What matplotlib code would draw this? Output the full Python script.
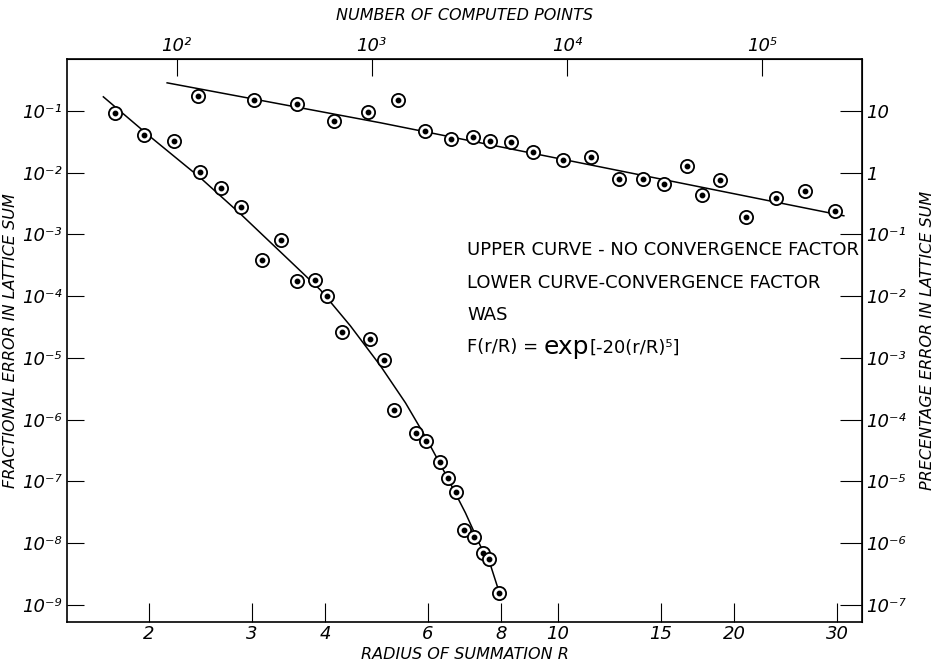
import numpy as np
import matplotlib.pyplot as plt
from matplotlib.ticker import NullLocator

plt.rcParams['font.family'] = 'DejaVu Sans'

# upper curve - no convergence factor (R, fractional error)
r_up = [2.43, 3.02, 3.58, 4.14, 4.73, 5.34, 5.93, 6.56, 7.15, 7.65, 8.33, 9.06,
        10.2, 11.4, 12.7, 14.0, 15.2, 16.6, 17.6, 18.9, 21.0, 23.6, 26.4, 29.7]
e_up = [0.171, 0.151, 0.130, 0.0697, 0.0964, 0.151, 0.0469, 0.0348, 0.0375, 0.0323,
        0.0311, 0.0215, 0.0159, 0.0178, 0.0079, 0.0080, 0.0065, 0.0130, 0.0044,
        0.0077, 0.0019, 0.0039, 0.0050, 0.0024]
r_up_fit = [2.15, 4.98, 30.8]
e_up_fit = [0.284, 0.064, 0.0020]

# lower curve - with convergence factor
r_lo = [1.75, 1.96, 2.21, 2.45, 2.66, 2.87, 3.36, 3.12, 3.58, 3.84, 4.03, 4.28, 4.77,
        5.04, 5.25, 5.73, 5.96, 6.28, 6.49, 6.71, 6.91, 7.20, 7.45, 7.63, 7.94]
e_lo = [0.0918, 0.0409, 0.0327, 0.0102, 0.0056, 0.00282, 8.15e-4, 3.82e-4, 1.77e-4,
        1.83e-4, 1.01e-4, 2.59e-5, 2.05e-5, 9.1e-6, 1.46e-6, 6.1e-7, 4.5e-7, 2.1e-7,
        1.13e-7, 6.7e-8, 1.66e-8, 1.28e-8, 6.9e-9, 5.5e-9, 1.55e-9]
r_lo_fit = [1.673, 2.013, 2.451, 2.868, 3.357, 3.929, 4.421, 4.977, 5.491, 5.940,
            6.427, 6.952, 7.374, 7.670, 7.947]
e_lo_fit = [0.1685, 0.0379, 0.00822, 0.00215, 5.21e-4, 1.26e-4, 3.30e-5, 7.42e-6,
            1.87e-6, 5.26e-7, 1.32e-7, 3.09e-8, 9.02e-9, 4.45e-9, 1.56e-9]

xticks = [2, 3, 4, 6, 8, 10, 15, 20, 30]
yticks = [1e-1, 1e-2, 1e-3, 1e-4, 1e-5, 1e-6, 1e-7, 1e-8, 1e-9]
yticklabels = ['10⁻¹', '10⁻²', '10⁻³', '10⁻⁴', '10⁻⁵', '10⁻⁶', '10⁻⁷', '10⁻⁸', '10⁻⁹']
ptticks = [10, 1, 1e-1, 1e-2, 1e-3, 1e-4, 1e-5, 1e-6, 1e-7]
ptticklabels = ['10', '1', '10⁻¹', '10⁻²', '10⁻³', '10⁻⁴', '10⁻⁵', '10⁻⁶', '10⁻⁷']
nticks = [1e2, 1e3, 1e4, 1e5]
nticklabels = ['10²', '10³', '10⁴', '10⁵']
c_pts = 9.0  # computed points ~ c * R^3

fig = plt.figure(figsize=(9.41, 6.67), dpi=100)
ax = fig.add_axes([0.0712, 0.0675, 0.845, 0.844])
ax.set_xscale('log')
ax.set_yscale('log')
ax.set_xlim(1.45, 33.1)
ax.set_ylim(5.3e-10, 0.69)

for r, e, rf, ef in [(r_up, e_up, r_up_fit, e_up_fit), (r_lo, e_lo, r_lo_fit, e_lo_fit)]:
    ax.plot(rf, ef, color='black', lw=1.1)
    ax.plot(r, e, 'o', ms=9.5, mfc='white', mec='black', mew=1.3)
    ax.plot(r, e, 'o', ms=3.2, color='black')

ax.set_xticks(xticks)
ax.set_xticklabels([str(t) for t in xticks], style='italic', fontsize=13)
ax.set_yticks(yticks)
ax.set_yticklabels(yticklabels, fontsize=13, style='italic')
ax.xaxis.set_minor_locator(NullLocator())
ax.yaxis.set_minor_locator(NullLocator())
ax.tick_params(axis='x', direction='in', length=14, width=0.8, pad=2)
ax.tick_params(axis='y', direction='in', length=12, width=0.8, pad=4)

top = ax.secondary_xaxis('top', functions=(lambda r: c_pts * r ** 3,
                                            lambda n: np.cbrt(n / c_pts)))
top.set_xticks(nticks)
top.set_xticklabels(nticklabels, fontsize=13, style='italic')
top.xaxis.set_minor_locator(NullLocator())
top.tick_params(direction='in', length=12, width=0.8, pad=3)
top.set_xlabel('NUMBER OF COMPUTED POINTS', style='italic', fontsize=11.5, labelpad=12)

right = ax.secondary_yaxis('right', functions=(lambda v: v * 100, lambda p: p / 100))
right.set_yticks(ptticks)
right.set_yticklabels(ptticklabels, fontsize=13, style='italic')
right.yaxis.set_minor_locator(NullLocator())
right.tick_params(direction='in', length=16, width=0.8, pad=3)
right.set_ylabel('PRECENTAGE ERROR IN LATTICE SUM', style='italic', fontsize=11.5,
                 labelpad=10)

ax.set_xlabel('RADIUS OF SUMMATION R', style='italic', fontsize=11.5, labelpad=3)
ax.set_ylabel('FRACTIONAL ERROR IN LATTICE SUM', style='italic', fontsize=11.5,
              labelpad=3)

for sp in ax.spines.values():
    sp.set_linewidth(1.2)

txt = dict(transform=ax.transAxes, fontsize=13, va='center', ha='left')
ax.text(0.503, 0.661, 'UPPER CURVE - NO CONVERGENCE FACTOR', **txt)
ax.text(0.503, 0.602, 'LOWER CURVE-CONVERGENCE FACTOR', **txt)
ax.text(0.503, 0.545, 'WAS', **txt)
t1 = ax.text(0.503, 0.488, 'F(r/R) = ', **txt)
t2 = ax.annotate('exp', xy=(1, 0.5), xycoords=t1, va='center', ha='left', fontsize=18)
ax.annotate('[-20(r/R)⁵]', xy=(1, 0.5), xycoords=t2, va='center', ha='left',
            fontsize=13)

fig.savefig('out.png', dpi=100)
